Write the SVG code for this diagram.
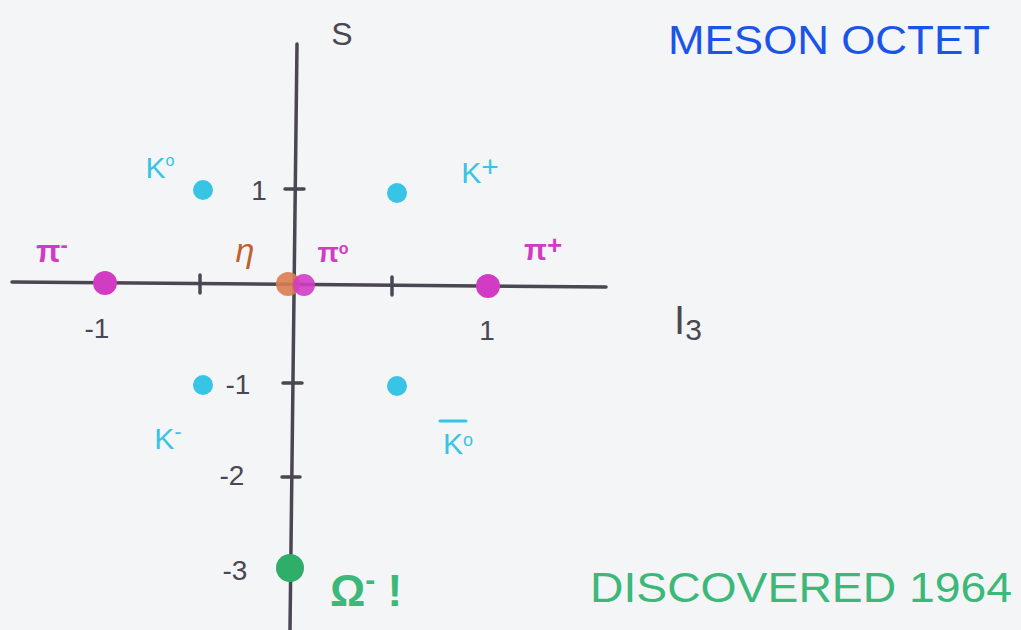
<svg xmlns="http://www.w3.org/2000/svg" width="1021" height="630" viewBox="0 0 1021 630">
<style>
.ax{stroke:#4a4652;stroke-width:3.5;stroke-linecap:round;fill:none}
.lbl{font-family:"Liberation Sans",Arial,sans-serif;fill:#4a4652}
.mag{fill:#d23cc4}
.cy{fill:#38c4e4}
.t{font-family:"Liberation Sans",Arial,sans-serif}
</style>
<rect width="1021" height="630" fill="#f4f5f7"/>
<g id="axes">
<line class="ax" x1="12" y1="282" x2="606" y2="287"/>
<line class="ax" x1="297" y1="44" x2="290" y2="630"/>
<line class="ax" x1="200" y1="275" x2="200" y2="293"/>
<line class="ax" x1="392" y1="277" x2="392" y2="295"/>
<line class="ax" x1="105" y1="274" x2="105" y2="292"/>
<line class="ax" x1="488" y1="277" x2="488" y2="295"/>
<line class="ax" x1="285" y1="189" x2="304" y2="189"/>
<line class="ax" x1="283" y1="383" x2="302" y2="383"/>
<line class="ax" x1="282" y1="477" x2="300" y2="477"/>
<line class="ax" x1="281" y1="570" x2="299" y2="570"/>
<text class="lbl" x="342" y="45" font-size="32" text-anchor="middle">S</text>
<text class="lbl" x="688" y="334" font-size="40" text-anchor="middle">I<tspan font-size="30" dy="6">3</tspan></text>
<text class="lbl" x="97" y="338" font-size="28" text-anchor="middle">-1</text>
<text class="lbl" x="487" y="340" font-size="28" text-anchor="middle">1</text>
<text class="lbl" x="259" y="200" font-size="28" text-anchor="middle">1</text>
<text class="lbl" x="238" y="394" font-size="28" text-anchor="middle">-1</text>
<text class="lbl" x="232" y="485" font-size="28" text-anchor="middle">-2</text>
<text class="lbl" x="235" y="580" font-size="28" text-anchor="middle">-3</text>
</g>
<g id="pi-minus">
<circle class="mag" cx="105" cy="283" r="12"/>
<text class="t mag" x="52" y="262" font-size="32" font-weight="bold" text-anchor="middle">π<tspan font-size="22" dy="-10">-</tspan></text>
</g>
<g id="eta">
<circle cx="288" cy="284" r="12" fill="#dc7c50" opacity="0.9"/>
<text class="t" x="245" y="262" font-size="34" fill="#c0602e" text-anchor="middle" font-style="italic">η</text>
</g>
<g id="pi-zero">
<circle class="mag" cx="304" cy="285" r="11" opacity="0.9"/>
<text class="t mag" x="333" y="262" font-size="28" font-weight="bold" text-anchor="middle">π<tspan font-size="16" dy="-8">o</tspan></text>
</g>
<g id="pi-plus">
<circle class="mag" cx="488" cy="286" r="12"/>
<text class="t mag" x="543" y="260" font-size="30" font-weight="bold" text-anchor="middle">π<tspan font-size="26" dy="-6">+</tspan></text>
</g>
<g id="K-zero">
<circle class="cy" cx="203" cy="190" r="10"/>
<text class="t cy" x="160" y="178" font-size="30" text-anchor="middle">K<tspan font-size="16" dy="-12">o</tspan></text>
</g>
<g id="K-plus">
<circle class="cy" cx="397" cy="193" r="10"/>
<text class="t cy" x="480" y="183" font-size="30" text-anchor="middle">K<tspan font-size="30" dy="-6">+</tspan></text>
</g>
<g id="K-minus">
<circle class="cy" cx="203" cy="385" r="10"/>
<text class="t cy" x="168" y="449" font-size="30" text-anchor="middle">K<tspan font-size="22" dy="-10">-</tspan></text>
</g>
<g id="K-zero-bar">
<circle class="cy" cx="397" cy="386" r="10"/>
<text class="t cy" x="458" y="454" font-size="30" text-anchor="middle">K<tspan font-size="18" dy="-8">o</tspan></text>
<line x1="440" y1="421" x2="466" y2="421" stroke="#38c4e4" stroke-width="3" stroke-linecap="round"/>
</g>
<g id="omega">
<circle cx="290" cy="568" r="14" fill="#2fae6a"/>
<text class="t" x="330" y="606" font-size="44" font-weight="bold" fill="#3cb878">Ω<tspan font-size="30" dy="-16">-</tspan><tspan font-size="44" dy="16"> !</tspan></text>
</g>
<g id="titles">
<text class="t" x="668" y="54" font-size="40" fill="#1a54e8" textLength="322" lengthAdjust="spacingAndGlyphs">MESON  OCTET</text>
<text class="t" x="590" y="602" font-size="42" fill="#3cb878" textLength="422" lengthAdjust="spacingAndGlyphs">DISCOVERED  1964</text>
</g>
</svg>
